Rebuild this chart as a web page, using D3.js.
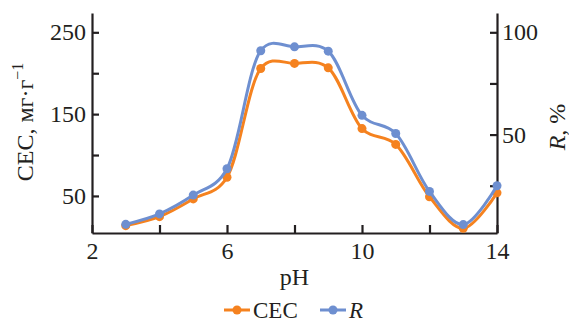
<!DOCTYPE html>
<html>
<head>
<meta charset="utf-8">
<script src="https://cdn.jsdelivr.net/npm/d3@7"></script>
<style>
  body { margin: 0; background: #fff; }
  text { font-family: "Liberation Serif", "Times New Roman", serif; fill: #231f20; }
</style>
</head>
<body>
<svg id="chart" width="569" height="322"></svg>
<script>
let ph = [3, 4, 5, 6, 7, 8, 9, 10, 11, 12, 13, 14],
    cec = [13.7, 24.7, 46.4, 72.9, 205.8, 212, 206.6, 132.3, 113, 49, 10.4, 53.8],
    r = [6.1, 11.2, 20.4, 33.3, 91, 92.9, 90.8, 59.4, 50.5, 22.2, 6, 25],
    xTicks = [2, 4, 6, 8, 10, 12, 14],
    xLabels = [2, 6, 10, 14],
    leftTicks = [50, 100, 150, 200, 250],
    leftLabels = [50, 150, 250],
    rightTicks = [25, 50, 75, 100],
    rightLabels = [50, 100]

let margin = {top: 13, right: 72, bottom: 89, left: 92},
    width = 569 - margin.left - margin.right,
    height = 322 - margin.top - margin.bottom,
    orange = "#f5821f",
    blue = "#6e8fd0",
    fontSize = "24px"

let svg = d3.select("#chart")
let g = svg.append("g").attr("transform", `translate(${margin.left},${margin.top})`)

let x = d3.scaleLinear().domain([2, 14]).range([0, width])
let yL = d3.scaleLinear().domain([4.7, 273.6]).range([height, 0])
let yR = d3.scaleLinear().domain([4.7 / 2.5, 273.6 / 2.5]).range([height, 0])

function styleAxis(sel) {
  sel.select(".domain").attr("stroke", "#231f20").attr("stroke-width", 2.2)
  sel.selectAll(".tick line").attr("stroke", "#231f20").attr("stroke-width", 2.2)
  sel.selectAll(".tick text").style("font-size", fontSize).attr("fill", "#231f20")
}

g.append("g")
  .attr("transform", `translate(0,${height})`)
  .call(d3.axisBottom(x).tickValues(xTicks).tickSize(-8).tickSizeOuter(0).tickPadding(9)
    .tickFormat(d => xLabels.includes(d) ? d : ""))
  .call(styleAxis)

g.append("g")
  .call(d3.axisLeft(yL).tickValues(leftTicks).tickSize(-7).tickSizeOuter(0).tickPadding(6)
    .tickFormat(d => leftLabels.includes(d) ? d : ""))
  .call(styleAxis)

g.append("g")
  .attr("transform", `translate(${width},0)`)
  .call(d3.axisRight(yR).tickValues(rightTicks).tickSize(-7).tickSizeOuter(0).tickPadding(5)
    .tickFormat(d => rightLabels.includes(d) ? d : ""))
  .call(styleAxis)

// series
let series = [
  {name: "CEC", vals: cec, y: yL, color: orange},
  {name: "R", vals: r, y: yR, color: blue}
]

series.forEach(s => {
  let pts = ph.map((p, i) => [x(p), s.y(s.vals[i])])
  g.append("path")
    .attr("d", d3.line().curve(d3.curveCatmullRom.alpha(0.2))(pts))
    .attr("fill", "none")
    .attr("stroke", s.color)
    .attr("stroke-width", 3)
  g.append("g").selectAll("circle")
    .data(pts).enter()
    .append("circle")
    .attr("cx", d => d[0])
    .attr("cy", d => d[1])
    .attr("r", 4.5)
    .attr("fill", s.color)
})

// axis titles
svg.append("text")
  .attr("x", margin.left + x(8))
  .attr("y", 285)
  .attr("text-anchor", "middle")
  .style("font-size", fontSize)
  .text("pH")

let lt = svg.append("text")
  .attr("transform", "translate(33,122) rotate(-90)")
  .attr("text-anchor", "middle")
  .style("font-size", fontSize)
lt.append("tspan").text("CEC, мг·г")
lt.append("tspan").attr("dy", -10).style("font-size", "16px").text("−1")

let rt = svg.append("text")
  .attr("transform", "translate(565,127) rotate(-90)")
  .attr("text-anchor", "middle")
  .style("font-size", fontSize)
rt.append("tspan").style("font-style", "italic").text("R")
rt.append("tspan").text(", %")

// legend
let legend = svg.append("g").attr("transform", "translate(0,310)")
let items = [
  {label: "CEC", italic: false, color: orange, x0: 224},
  {label: "R", italic: true, color: blue, x0: 320}
]
items.forEach(it => {
  legend.append("line")
    .attr("x1", it.x0).attr("x2", it.x0 + 26)
    .attr("stroke", it.color).attr("stroke-width", 3)
  legend.append("circle")
    .attr("cx", it.x0 + 13).attr("r", 4.5).attr("fill", it.color)
  legend.append("text")
    .attr("x", it.x0 + 29)
    .attr("y", 8)
    .style("font-size", "23px")
    .style("font-style", it.italic ? "italic" : "normal")
    .text(it.label)
})
</script>
</body>
</html>
